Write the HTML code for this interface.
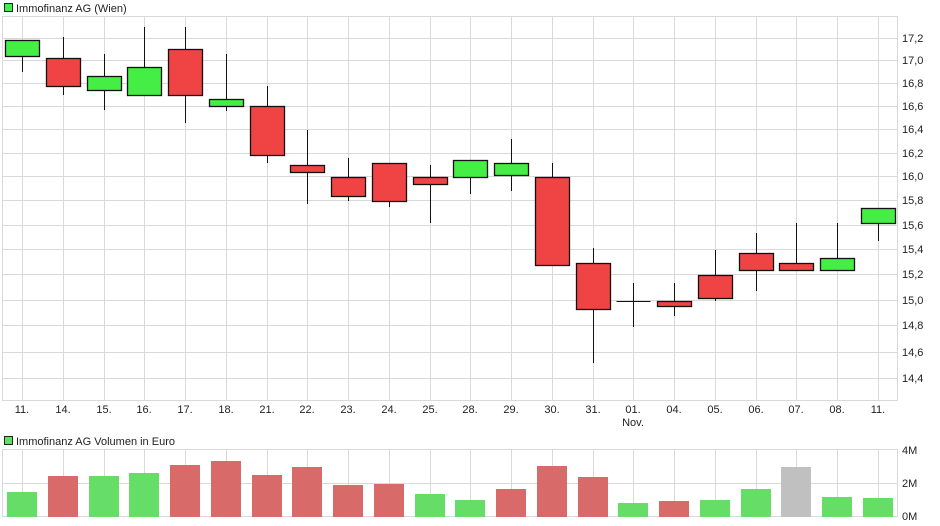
<!DOCTYPE html>
<html><head><meta charset="utf-8"><style>
body{margin:0;background:#fff;}
svg{display:block;font-family:"Liberation Sans",sans-serif;}
</style></head><body>
<svg id="s" width="940" height="526" xmlns="http://www.w3.org/2000/svg">
<rect x="0" y="0" width="940" height="526" fill="#fff"/>
<g id="grid" stroke="#d9d9d9" stroke-width="1"></g>
<rect x="4.5" y="3.5" width="8" height="8" fill="#44ee44" stroke="#222"/>
<text x="16" y="12" font-size="11" fill="#222">Immofinanz AG (Wien)</text>
<rect x="4.5" y="436.5" width="8" height="8" fill="#66dd66" stroke="#222"/>
<text x="16" y="445" font-size="11" fill="#222">Immofinanz AG Volumen in Euro</text>
<g id="yl" font-size="11" fill="#222">
<text>17,2</text><text>17,0</text><text>16,8</text><text>16,6</text><text>16,4</text><text>16,2</text><text>16,0</text><text>15,8</text><text>15,6</text><text>15,4</text><text>15,2</text><text>15,0</text><text>14,8</text><text>14,6</text><text>14,4</text>
</g>
<g font-size="11" fill="#222">
<text x="902" y="454">4M</text><text x="902" y="487">2M</text><text x="902" y="520">0M</text>
</g>
<g id="xl" font-size="11" fill="#222" text-anchor="middle"></g>
<text x="633" y="426" font-size="11" fill="#222" text-anchor="middle">Nov.</text>
<g id="c"></g>
</svg>
<script>
var N="http://www.w3.org/2000/svg";
function el(p,t,a){var e=document.createElementNS(N,t);for(var k in a)e.setAttribute(k,a[k]);p.appendChild(e);return e;}
function Y(v){return 38+1913*(Math.log(17.2)-Math.log(v));}
var xs=[],labels=["11.","14.","15.","16.","17.","18.","21.","22.","23.","24.","25.","28.","29.","30.","31.","01.","04.","05.","06.","07.","08.","11."];
for(var i=0;i<22;i++)xs.push(Math.round(22+i*40.76));
var g=document.getElementById("grid");
var yt=document.getElementById("yl").children;
for(var v=0;v<15;v++){var y=Math.round(Y(17.2-v*0.2));el(g,"line",{x1:2,x2:898,y1:y+.5,y2:y+.5});yt[v].setAttribute("x",902);yt[v].setAttribute("y",y+4);}
xs.forEach(function(x){el(g,"line",{x1:x+.5,x2:x+.5,y1:16,y2:401});el(g,"line",{x1:x+.5,x2:x+.5,y1:449,y2:517});});
el(g,"rect",{x:2.5,y:16.5,width:895,height:384,fill:"none"});
el(g,"rect",{x:2.5,y:449.5,width:895,height:67,fill:"none"});
el(g,"line",{x1:2,x2:898,y1:483.5,y2:483.5});
var xl=document.getElementById("xl");
xs.forEach(function(x,i){var t=el(xl,"text",{x:x,y:413});t.textContent=labels[i];});
var C=[["g",40,56,40,72],["r",58,86,37,95],["g",76,90,54,110],["g",67,95,27,95],["r",49,95,27,123],["g",99,106,54,111],["r",106,155,86,163],["r",165,172,130,204],["r",177,196,158,201],["r",163,201,163,207],["r",177,184,165,223],["g",160,177,160,194],["g",163,175,139,191],["r",177,265,163,265],["r",263,309,248,363],["d",301,301,283,327],["r",301,306,283,316],["r",275,298,250,301],["r",253,270,233,291],["r",263,270,223,270],["g",258,270,223,270],["g",208,223,208,241]];
var V=[["g",492],["r",476],["g",476],["g",473],["r",465],["r",461],["r",475],["r",467],["r",485],["r",484],["g",494],["g",500],["r",489],["r",466],["r",477],["g",503],["r",501],["g",500],["g",489],["x",467],["g",497],["g",498]];
var c=document.getElementById("c");
var vc={g:"#66dd66",r:"#d96a6a",x:"#c0c0c0"};
V.forEach(function(v,i){el(c,"rect",{x:xs[i]-15,y:v[1],width:30,height:517-v[1],fill:vc[v[0]]});});
C.forEach(function(d,i){var x=xs[i]+.5;
el(c,"line",{x1:x,x2:x,y1:d[3],y2:d[4],stroke:"#111","stroke-width":1});
if(d[0]=="d"){el(c,"line",{x1:x-17,x2:x+17,y1:d[1]+.5,y2:d[1]+.5,stroke:"#111"});}
else el(c,"rect",{x:x-17,y:d[1]+.5,width:34,height:Math.max(d[2]-d[1],2),fill:d[0]=="g"?"#44ee44":"#f04444",stroke:"#111","stroke-width":1.3});
});
</script>
</body></html>
